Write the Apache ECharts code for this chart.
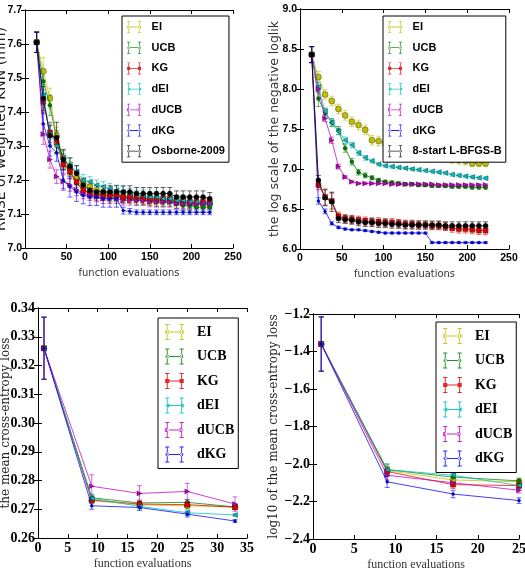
<!DOCTYPE html>
<html>
<head>
<meta charset="utf-8">
<script src="https://cdn.jsdelivr.net/npm/echarts@6/dist/echarts.min.js"></script>
<style>
html, body { margin: 0; padding: 0; background: #fff; }
#main { width: 525px; height: 576px; }
</style>
</head>
<body>
<div id="main"></div>
<script>
// ---- panel 1: RMSE of weighted KNN ----
var evalsTop = [14, 22, 30, 38, 46, 54, 62, 70, 78, 86, 94, 102, 110, 118, 126, 134, 142, 150, 158, 166, 174, 182, 190, 198, 206, 214, 222];
var rmseEI = [7.605, 7.52, 7.44, 7.33, 7.265, 7.235, 7.205, 7.19, 7.18, 7.17, 7.165, 7.16, 7.155, 7.15, 7.15, 7.145, 7.145, 7.14, 7.14, 7.14, 7.14, 7.135, 7.135, 7.13, 7.13, 7.13, 7.13];
var rmseUCB = [7.605, 7.49, 7.42, 7.32, 7.255, 7.225, 7.19, 7.17, 7.165, 7.16, 7.155, 7.15, 7.15, 7.145, 7.145, 7.14, 7.14, 7.14, 7.135, 7.135, 7.135, 7.13, 7.125, 7.125, 7.12, 7.12, 7.12];
var rmseKG = [7.605, 7.43, 7.34, 7.31, 7.245, 7.225, 7.195, 7.17, 7.16, 7.155, 7.155, 7.155, 7.155, 7.15, 7.15, 7.15, 7.145, 7.145, 7.145, 7.145, 7.145, 7.14, 7.14, 7.135, 7.135, 7.135, 7.135];
var rmseDEI = [7.605, 7.45, 7.335, 7.30, 7.265, 7.245, 7.225, 7.20, 7.195, 7.185, 7.18, 7.175, 7.17, 7.165, 7.16, 7.155, 7.155, 7.15, 7.15, 7.145, 7.145, 7.14, 7.14, 7.135, 7.135, 7.13, 7.13];
var rmseDUCB = [7.605, 7.335, 7.26, 7.21, 7.195, 7.185, 7.17, 7.16, 7.155, 7.15, 7.145, 7.145, 7.145, 7.14, 7.14, 7.14, 7.14, 7.135, 7.135, 7.135, 7.135, 7.13, 7.13, 7.13, 7.13, 7.13, 7.13];
var rmseDKG = [7.605, 7.365, 7.30, 7.28, 7.20, 7.18, 7.165, 7.155, 7.15, 7.15, 7.145, 7.145, 7.145, 7.11, 7.108, 7.105, 7.105, 7.105, 7.105, 7.105, 7.105, 7.105, 7.105, 7.105, 7.105, 7.105, 7.105];
var rmseOsb = [7.605, 7.44, 7.33, 7.325, 7.26, 7.24, 7.22, 7.185, 7.17, 7.165, 7.165, 7.165, 7.165, 7.165, 7.165, 7.16, 7.16, 7.16, 7.16, 7.16, 7.16, 7.15, 7.15, 7.15, 7.15, 7.15, 7.145];
var rmseEIErr = [0.03, 0.04, 0.03, 0.025, 0.02, 0.02, 0.018, 0.016, 0.015, 0.015, 0.015, 0.015, 0.015, 0.015, 0.015, 0.015, 0.015, 0.015, 0.015, 0.015, 0.015, 0.015, 0.015, 0.015, 0.015, 0.015, 0.015];
var rmseUCBErr = [0.03, 0.035, 0.03, 0.025, 0.022, 0.02, 0.018, 0.016, 0.015, 0.015, 0.015, 0.014, 0.014, 0.014, 0.014, 0.014, 0.014, 0.014, 0.014, 0.014, 0.014, 0.014, 0.014, 0.014, 0.014, 0.014, 0.014];
var rmseKGErr = [0.03, 0.035, 0.03, 0.03, 0.025, 0.02, 0.018, 0.016, 0.015, 0.015, 0.015, 0.015, 0.015, 0.015, 0.015, 0.015, 0.015, 0.015, 0.015, 0.015, 0.015, 0.015, 0.015, 0.015, 0.015, 0.015, 0.015];
var rmseDEIErr = [0.03, 0.03, 0.03, 0.025, 0.022, 0.02, 0.018, 0.016, 0.015, 0.015, 0.015, 0.015, 0.015, 0.015, 0.015, 0.015, 0.015, 0.015, 0.015, 0.015, 0.015, 0.015, 0.015, 0.015, 0.015, 0.015, 0.015];
var rmseDUCBErr = [0.03, 0.03, 0.025, 0.02, 0.02, 0.018, 0.016, 0.015, 0.015, 0.014, 0.014, 0.014, 0.014, 0.014, 0.014, 0.014, 0.014, 0.014, 0.014, 0.014, 0.014, 0.014, 0.014, 0.014, 0.014, 0.014, 0.014];
var rmseDKGErr = [0.03, 0.035, 0.03, 0.025, 0.03, 0.03, 0.028, 0.025, 0.025, 0.025, 0.025, 0.025, 0.025, 0.01, 0.008, 0.007, 0.007, 0.007, 0.007, 0.007, 0.007, 0.007, 0.007, 0.007, 0.007, 0.007, 0.007];
var rmseOsbErr = [0.03, 0.035, 0.03, 0.045, 0.03, 0.025, 0.022, 0.02, 0.018, 0.018, 0.018, 0.018, 0.018, 0.018, 0.018, 0.018, 0.018, 0.018, 0.018, 0.018, 0.018, 0.018, 0.018, 0.018, 0.018, 0.018, 0.018];

// ---- panel 2: log scale of the negative loglik ----
var llEI = [8.43, 8.15, 7.93, 7.85, 7.75, 7.67, 7.59, 7.55, 7.49, 7.36, 7.35, 7.32, 7.30, 7.28, 7.26, 7.24, 7.22, 7.20, 7.18, 7.16, 7.14, 7.12, 7.11, 7.10, 7.07, 7.07, 7.07];
var llUCB = [8.43, 7.88, 7.70, 7.58, 7.48, 7.26, 7.09, 6.96, 6.92, 6.89, 6.86, 6.84, 6.83, 6.82, 6.81, 6.81, 6.80, 6.80, 6.79, 6.79, 6.79, 6.78, 6.78, 6.78, 6.77, 6.77, 6.77];
var llKG = [8.43, 6.80, 6.65, 6.60, 6.41, 6.38, 6.37, 6.36, 6.35, 6.34, 6.34, 6.33, 6.33, 6.32, 6.31, 6.31, 6.30, 6.30, 6.29, 6.29, 6.28, 6.26, 6.25, 6.25, 6.24, 6.23, 6.23];
var llDEI = [8.43, 8.03, 7.72, 7.58, 7.47, 7.36, 7.30, 7.20, 7.14, 7.10, 7.06, 7.04, 7.03, 7.02, 7.01, 7.00, 6.99, 6.98, 6.97, 6.96, 6.95, 6.93, 6.92, 6.91, 6.90, 6.89, 6.885];
var llDUCB = [8.43, 8.00, 7.63, 7.36, 7.03, 6.90, 6.84, 6.82, 6.82, 6.82, 6.82, 6.82, 6.81, 6.81, 6.81, 6.81, 6.81, 6.81, 6.81, 6.80, 6.80, 6.80, 6.80, 6.80, 6.80, 6.80, 6.80];
var llDKG = [8.43, 6.60, 6.47, 6.32, 6.27, 6.25, 6.24, 6.24, 6.23, 6.22, 6.21, 6.20, 6.20, 6.20, 6.20, 6.20, 6.20, 6.20, 6.08, 6.08, 6.08, 6.08, 6.08, 6.08, 6.08, 6.08, 6.08];
var llBFGS = [8.43, 6.86, 6.64, 6.59, 6.38, 6.37, 6.36, 6.34, 6.33, 6.33, 6.32, 6.32, 6.31, 6.31, 6.30, 6.30, 6.30, 6.30, 6.30, 6.30, 6.29, 6.29, 6.29, 6.29, 6.29, 6.29, 6.29];
var llEIErr = [0.1, 0.07, 0.06, 0.06, 0.06, 0.06, 0.06, 0.06, 0.06, 0.06, 0.06, 0.06, 0.06, 0.06, 0.06, 0.06, 0.06, 0.06, 0.06, 0.06, 0.06, 0.05, 0.05, 0.05, 0.04, 0.04, 0.04];
var llUCBErr = [0.1, 0.1, 0.06, 0.05, 0.05, 0.05, 0.04, 0.035, 0.03, 0.025, 0.02, 0.02, 0.02, 0.02, 0.02, 0.02, 0.02, 0.02, 0.02, 0.02, 0.02, 0.02, 0.02, 0.02, 0.02, 0.02, 0.02];
var llKGErr = [0.1, 0.06, 0.1, 0.1, 0.05, 0.05, 0.05, 0.05, 0.05, 0.05, 0.05, 0.05, 0.05, 0.05, 0.05, 0.05, 0.05, 0.05, 0.05, 0.05, 0.05, 0.05, 0.05, 0.05, 0.05, 0.05, 0.05];
var llDEIErr = [0.1, 0.05, 0.04, 0.04, 0.04, 0.04, 0.035, 0.03, 0.03, 0.025, 0.02, 0.02, 0.02, 0.02, 0.02, 0.02, 0.02, 0.02, 0.02, 0.02, 0.02, 0.02, 0.02, 0.02, 0.02, 0.02, 0.02];
var llDUCBErr = [0.1, 0.04, 0.04, 0.04, 0.03, 0.02, 0.015, 0.015, 0.015, 0.015, 0.015, 0.015, 0.015, 0.015, 0.015, 0.015, 0.015, 0.015, 0.015, 0.015, 0.015, 0.015, 0.015, 0.015, 0.015, 0.015, 0.015];
var llDKGErr = [0.1, 0.04, 0.03, 0.02, 0.015, 0.012, 0.01, 0.01, 0.01, 0.01, 0.01, 0.01, 0.01, 0.01, 0.01, 0.01, 0.01, 0.01, 0.01, 0.01, 0.01, 0.01, 0.01, 0.01, 0.01, 0.01, 0.01];
var llBFGSErr = [0.1, 0.06, 0.1, 0.12, 0.05, 0.05, 0.05, 0.05, 0.05, 0.05, 0.05, 0.05, 0.05, 0.05, 0.05, 0.05, 0.05, 0.05, 0.05, 0.05, 0.05, 0.05, 0.05, 0.05, 0.05, 0.05, 0.05];

// ---- panel 3: mean cross-entropy loss ----
var evalsCe = [1, 9, 17, 25, 33];
var ceEI = [0.326, 0.2730, 0.2715, 0.2712, 0.2708];
var ceUCB = [0.326, 0.2740, 0.2722, 0.2724, 0.2708];
var ceKG = [0.326, 0.2732, 0.2718, 0.2716, 0.2707];
var ceDEI = [0.326, 0.2738, 0.2710, 0.2688, 0.2680];
var ceDUCB = [0.326, 0.2780, 0.2755, 0.2762, 0.2718];
var ceDKG = [0.326, 0.2712, 0.2706, 0.2683, 0.2659];
var ceEIErr = [0.0108, 0.001, 0.001, 0.001, 0.0008];
var ceUCBErr = [0.0108, 0.0012, 0.001, 0.001, 0.0008];
var ceKGErr = [0.0108, 0.001, 0.001, 0.001, 0.0008];
var ceDEIErr = [0.0108, 0.001, 0.001, 0.001, 0.0005];
var ceDUCBErr = [0.0108, 0.004, 0.0027, 0.0028, 0.0025];
var ceDKGErr = [0.0108, 0.0012, 0.001, 0.001, 0.0005];

// ---- panel 4: log10 of the mean cross-entropy loss ----
var evalsLog = [1, 9, 17, 25];
var lgEI = [-1.36, -2.035, -2.085, -2.095];
var lgUCB = [-1.36, -2.03, -2.07, -2.09];
var lgKG = [-1.36, -2.04, -2.11, -2.115];
var lgDEI = [-1.36, -2.03, -2.06, -2.115];
var lgDUCB = [-1.36, -2.06, -2.10, -2.14];
var lgDKG = [-1.36, -2.095, -2.16, -2.195];
var lgEIErr = [0.145, 0.025, 0.02, 0.015];
var lgUCBErr = [0.145, 0.03, 0.02, 0.015];
var lgKGErr = [0.145, 0.025, 0.02, 0.015];
var lgDEIErr = [0.145, 0.03, 0.02, 0.015];
var lgDUCBErr = [0.145, 0.025, 0.02, 0.015];
var lgDKGErr = [0.145, 0.03, 0.02, 0.015];

// method styles (matplotlib classic colours / markers)
var styles = {
	'EI': { color: '#bfbf00', symbol: 'circle', size: 6, rot: 0, icon: 'circle' },
	'UCB': { color: '#008000', symbol: 'circle', size: 4, rot: 0, icon: 'dot' },
	'KG': { color: '#e00000', symbol: 'rect', size: 5, rot: 0, icon: 'square' },
	'dEI': { color: '#00bfbf', symbol: 'triangle', size: 5, rot: 90, icon: 'left' },
	'dUCB': { color: '#bf00bf', symbol: 'triangle', size: 5, rot: -90, icon: 'right' },
	'dKG': { color: '#0000ff', symbol: 'circle', size: 3, rot: 0, icon: 'dot' },
	'Osborne-2009': { color: '#000000', symbol: 'circle', size: 5, rot: 0, icon: 'dot' },
	'8-start L-BFGS-B': { color: '#000000', symbol: 'circle', size: 5, rot: 0, icon: 'dot' }
};

// legend icon (24 x 20 box): line with error bar and marker at both ends
function errIcon(kind) {
	var p = 'M3,9.3 L21,9.3 L21,10.7 L3,10.7 Z';
	[3, 21].forEach(function (x) {
		p += ' M' + (x - 0.6) + ',0 L' + (x + 0.6) + ',0 L' + (x + 0.6) + ',20 L' + (x - 0.6) + ',20 Z';
		p += ' M' + (x - 2.6) + ',0 L' + (x + 2.6) + ',0 L' + (x + 2.6) + ',1.2 L' + (x - 2.6) + ',1.2 Z';
		p += ' M' + (x - 2.6) + ',18.8 L' + (x + 2.6) + ',18.8 L' + (x + 2.6) + ',20 L' + (x - 2.6) + ',20 Z';
		if (kind === 'circle' || kind === 'dot') {
			var r = kind === 'circle' ? 2.8 : 2.2;
			p += ' M' + (x - r) + ',10 A' + r + ',' + r + ' 0 1,0 ' + (x + r) + ',10 A' + r + ',' + r + ' 0 1,0 ' + (x - r) + ',10 Z';
		} else if (kind === 'square') {
			p += ' M' + (x - 2.6) + ',7.4 L' + (x + 2.6) + ',7.4 L' + (x + 2.6) + ',12.6 L' + (x - 2.6) + ',12.6 Z';
		} else if (kind === 'left') {
			p += ' M' + (x - 2.6) + ',10 L' + (x + 2.6) + ',7.2 L' + (x + 2.6) + ',12.8 Z';
		} else if (kind === 'right') {
			p += ' M' + (x + 2.6) + ',10 L' + (x - 2.6) + ',7.2 L' + (x - 2.6) + ',12.8 Z';
		}
	});
	return 'path://' + p;
}

function errRender(params, api) {
	var x = api.value(0);
	var lo = api.coord([x, api.value(1)]);
	var hi = api.coord([x, api.value(2)]);
	var w = 2.5;
	var st = { stroke: api.visual('color'), lineWidth: 1, opacity: 0.6 };
	return {
		type: 'group',
		children: [
			{ type: 'line', shape: { x1: lo[0], y1: lo[1], x2: hi[0], y2: hi[1] }, style: st },
			{ type: 'line', shape: { x1: lo[0] - w, y1: lo[1], x2: lo[0] + w, y2: lo[1] }, style: st },
			{ type: 'line', shape: { x1: hi[0] - w, y1: hi[1], x2: hi[0] + w, y2: hi[1] }, style: st }
		]
	};
}

var panels = [
	{
		grid: { left: 25, top: 10, width: 208, height: 238 },
		x: evalsTop, xMin: 0, xMax: 250, xStep: 50,
		yMin: 7.0, yMax: 7.7, yStep: 0.1, digits: 1,
		names: ['EI', 'UCB', 'KG', 'dEI', 'dUCB', 'dKG', 'Osborne-2009'],
		values: [rmseEI, rmseUCB, rmseKG, rmseDEI, rmseDUCB, rmseDKG, rmseOsb],
		errs: [rmseEIErr, rmseUCBErr, rmseKGErr, rmseDEIErr, rmseDUCBErr, rmseDKGErr, rmseOsbErr],
		yName: 'RMSE of weighted KNN (mm)', yNameFont: { fontFamily: 'DejaVu Sans', fontSize: 14, color: '#222' }, yNameGap: 17,
		serif: false, legend: { left: 122, top: 16 }
	},
	{
		grid: { left: 300, top: 9, width: 209, height: 240 },
		x: evalsTop, xMin: 0, xMax: 250, xStep: 50,
		yMin: 6.0, yMax: 9.0, yStep: 0.5, digits: 1,
		names: ['EI', 'UCB', 'KG', 'dEI', 'dUCB', 'dKG', '8-start L-BFGS-B'],
		values: [llEI, llUCB, llKG, llDEI, llDUCB, llDKG, llBFGS],
		errs: [llEIErr, llUCBErr, llKGErr, llDEIErr, llDUCBErr, llDKGErr, llBFGSErr],
		yName: 'the log scale of the negative loglik', yNameFont: { fontFamily: 'DejaVu Sans', fontSize: 12.5, color: '#333' }, yNameGap: 19,
		serif: false, legend: { left: 383, top: 16 }
	},
	{
		grid: { left: 38, top: 308, width: 209, height: 230 },
		x: evalsCe, xMin: 0, xMax: 35, xStep: 5,
		yMin: 0.26, yMax: 0.34, yStep: 0.01, digits: 2,
		names: ['EI', 'UCB', 'KG', 'dEI', 'dUCB', 'dKG'],
		values: [ceEI, ceUCB, ceKG, ceDEI, ceDUCB, ceDKG],
		errs: [ceEIErr, ceUCBErr, ceKGErr, ceDEIErr, ceDUCBErr, ceDKGErr],
		yName: 'the mean cross-entropy loss', yNameFont: { fontFamily: 'DejaVu Serif', fontSize: 12, color: '#222' }, yNameGap: 26,
		serif: true, legend: { left: 158, top: 318 }
	},
	{
		grid: { left: 313, top: 314, width: 206, height: 225 },
		x: evalsLog, xMin: 0, xMax: 25, xStep: 5,
		yMin: -2.4, yMax: -1.2, yStep: 0.2, digits: 1,
		names: ['EI', 'UCB', 'KG', 'dEI', 'dUCB', 'dKG'],
		values: [lgEI, lgUCB, lgKG, lgDEI, lgDUCB, lgDKG],
		errs: [lgEIErr, lgUCBErr, lgKGErr, lgDEIErr, lgDUCBErr, lgDKGErr],
		yName: 'log10 of the mean cross-entropy loss', yNameFont: { fontFamily: 'DejaVu Serif', fontSize: 12, color: '#222' }, yNameGap: 33,
		serif: true, legend: { left: 436, top: 322 }
	}
];

var grids = [], xAxes = [], yAxes = [], series = [], legends = [];

panels.forEach(function (p, i) {
	var tickFont = p.serif ?
		{ fontFamily: 'Liberation Serif', fontWeight: 'bold', fontSize: 14, color: '#000' } :
		{ fontFamily: 'Liberation Sans', fontWeight: 'bold', fontSize: 10.5, color: '#000' };
	var xNameFont = p.serif ?
		{ fontFamily: 'Liberation Serif', fontSize: 12, color: '#333' } :
		{ fontFamily: "'DejaVu Sans Condensed', 'Liberation Sans Narrow', 'Liberation Sans', sans-serif", fontSize: 11, color: '#333' };
	var line = { show: true, lineStyle: { color: '#000', width: 1 } };
	var tick = { show: true, inside: true, length: 4, lineStyle: { color: '#000' } };

	grids.push(Object.assign({ containLabel: false, outerBoundsMode: 'none' }, p.grid));
	xAxes.push({
		type: 'value', gridIndex: i, position: 'bottom',
		min: p.xMin, max: p.xMax, interval: p.xStep,
		axisLine: line, axisTick: tick, splitLine: { show: false },
		axisLabel: Object.assign({ margin: p.serif ? 3 : 4 }, tickFont),
		name: 'function evaluations', nameLocation: 'middle', nameGap: 20, nameMoveOverlap: false,
		nameTextStyle: xNameFont
	});
	xAxes.push({
		type: 'value', gridIndex: i, position: 'top',
		min: p.xMin, max: p.xMax, interval: p.xStep,
		axisLine: line, axisTick: tick, splitLine: { show: false }, axisLabel: { show: false }
	});
	yAxes.push({
		type: 'value', gridIndex: i, position: 'left',
		min: p.yMin, max: p.yMax, interval: p.yStep,
		axisLine: line, axisTick: tick, splitLine: { show: false },
		axisLabel: Object.assign({
			margin: 3,
			formatter: function (v) { return v.toFixed(p.digits).replace('-', '\u2212'); }
		}, tickFont),
		name: p.yName, nameLocation: 'middle', nameGap: p.yNameGap, nameMoveOverlap: false,
		nameTextStyle: p.yNameFont
	});
	yAxes.push({
		type: 'value', gridIndex: i, position: 'right',
		min: p.yMin, max: p.yMax, interval: p.yStep,
		axisLine: line, axisTick: tick, splitLine: { show: false }, axisLabel: { show: false }
	});

	p.names.forEach(function (name, k) {
		var s = styles[name];
		var pts = p.x.map(function (x, j) { return [x, p.values[k][j]]; });
		var bars = p.x.map(function (x, j) { return [x, p.values[k][j] - p.errs[k][j], p.values[k][j] + p.errs[k][j]]; });
		series.push({
			type: 'custom', xAxisIndex: 2 * i, yAxisIndex: 2 * i,
			renderItem: errRender, data: bars,
			encode: { x: 0, y: [1, 2] },
			itemStyle: { color: s.color }, z: 2 + k * 0.01, silent: true
		});
		series.push({
			type: 'line', name: name, xAxisIndex: 2 * i, yAxisIndex: 2 * i,
			data: pts, symbol: s.symbol, symbolSize: s.size, symbolRotate: s.rot,
			showSymbol: true,
			lineStyle: { color: s.color, width: 1, opacity: 0.75 },
			itemStyle: { color: s.color, borderColor: 'rgba(0,0,0,0.55)', borderWidth: 0.6 },
			z: 3 + k * 0.01
		});
	});

	legends.push(p.serif ? {
		orient: 'vertical', left: p.legend.left, top: p.legend.top,
		backgroundColor: '#fff', borderColor: '#000', borderWidth: 1, borderRadius: 0,
		padding: [6, 4, 6, 7], itemWidth: 19, itemHeight: 16, itemGap: 8.5,
		itemStyle: { borderWidth: 0, opacity: 0.85 },
		textStyle: { fontFamily: 'Liberation Serif', fontWeight: 'bold', fontSize: 14, lineHeight: 16, color: '#000', padding: [0, 0, 0, 8] },
		data: p.names.map(function (n) { return { name: n, icon: errIcon(styles[n].icon) }; })
	} : {
		orient: 'vertical', left: p.legend.left, top: p.legend.top,
		backgroundColor: '#fff', borderColor: '#000', borderWidth: 1, borderRadius: 0,
		padding: [5, 4, 5, 5], itemWidth: 15, itemHeight: 12, itemGap: 8.7,
		itemStyle: { borderWidth: 0, opacity: 0.85 },
		textStyle: { fontFamily: 'Liberation Sans', fontWeight: 'bold', fontSize: 11, lineHeight: 12, color: '#000', padding: [0, 0, 0, 5] },
		data: p.names.map(function (n) { return { name: n, icon: errIcon(styles[n].icon) }; })
	});
});

var myChart = echarts.init(document.getElementById('main'));
myChart.setOption({
	animation: false,
	backgroundColor: '#fff',
	grid: grids,
	xAxis: xAxes,
	yAxis: yAxes,
	legend: legends,
	series: series
});
</script>
</body>
</html>
